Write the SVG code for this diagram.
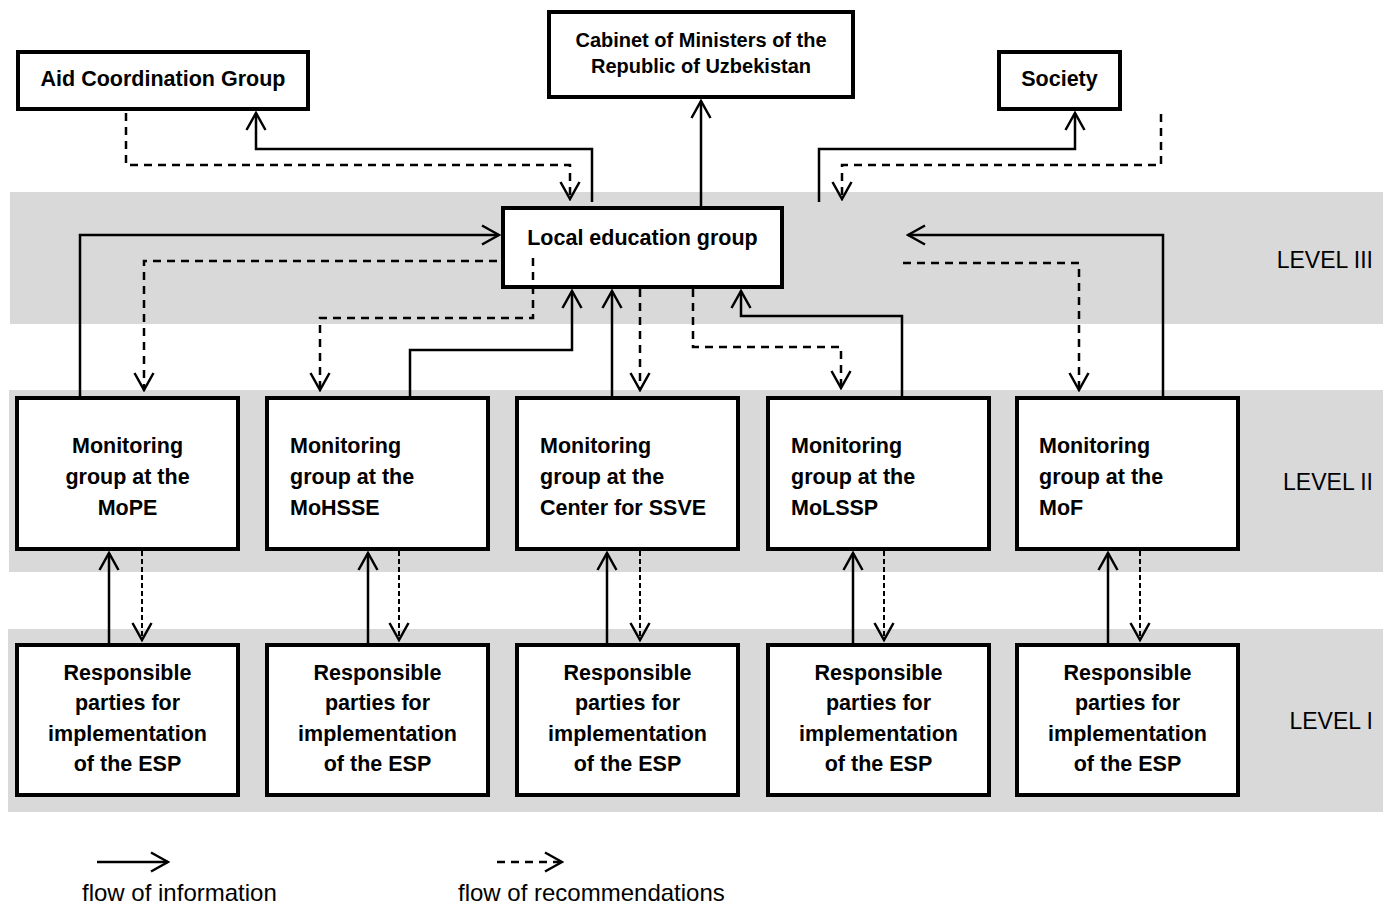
<svg xmlns="http://www.w3.org/2000/svg" width="1383" height="906" viewBox="0 0 1383 906">
<defs>
<style>
.band{fill:#d9d9d9}
.box{fill:#fff;stroke:#000;stroke-width:4}
.t{font-family:"Liberation Sans",Arial,sans-serif;font-weight:bold;font-size:21.5px;fill:#000}
.tc{text-anchor:middle}
.lvl{font-family:"Liberation Sans",Arial,sans-serif;font-size:23px;fill:#000;text-anchor:end}
.leg{font-family:"Liberation Sans",Arial,sans-serif;font-size:24px;fill:#000}
.s{fill:none;stroke:#000;stroke-width:2.5;marker-end:url(#ah)}
.d{fill:none;stroke:#000;stroke-width:2.5;stroke-dasharray:8 6;marker-end:url(#ah)}
.d2{fill:none;stroke:#000;stroke-width:2;stroke-dasharray:5 3;marker-end:url(#ah)}
</style>
<marker id="ah" markerUnits="userSpaceOnUse" viewBox="-20 -12 22 24" markerWidth="22" markerHeight="24" refX="0" refY="0" orient="auto">
<path d="M-17,-9.5 L0,0 L-17,9.5" fill="none" stroke="#000" stroke-width="2.5"/>
</marker>
</defs>
<rect width="1383" height="906" fill="#fff"/>
<g id="bands">
<rect class="band" x="10" y="192" width="1373" height="132"/>
<rect class="band" x="9" y="390" width="1374" height="182"/>
<rect class="band" x="8" y="629" width="1375" height="183"/>
<text class="lvl" x="1373" y="268">LEVEL III</text>
<text class="lvl" x="1373" y="490">LEVEL II</text>
<text class="lvl" x="1373" y="729">LEVEL I</text>
</g>
<g id="aid"><rect class="box" x="18" y="52" width="290" height="57"/><text class="t tc" x="163" y="86">Aid Coordination Group</text></g>
<g id="cabinet"><rect class="box" x="549" y="12" width="304" height="85"/><text class="t tc" x="701" y="47" style="font-size:20px">Cabinet of Ministers of the</text><text class="t tc" x="701" y="73" style="font-size:20px">Republic of Uzbekistan</text></g>
<g id="society"><rect class="box" x="999" y="52" width="121" height="57"/><text class="t tc" x="1059.5" y="86">Society</text></g>
<g id="leg"><rect class="box" x="503" y="208" width="279" height="79"/><text class="t tc" x="642.5" y="245">Local education group</text></g>
<g id="mon1"><rect class="box" x="17" y="398" width="221" height="151"/><text class="t tc" x="127.5" y="453">Monitoring</text><text class="t tc" x="127.5" y="484">group at the</text><text class="t tc" x="127.5" y="515">MoPE</text></g>
<g id="mon2"><rect class="box" x="267" y="398" width="221" height="151"/><text class="t" x="290" y="453">Monitoring</text><text class="t" x="290" y="484">group at the</text><text class="t" x="290" y="515">MoHSSE</text></g>
<g id="mon3"><rect class="box" x="517" y="398" width="221" height="151"/><text class="t" x="540" y="453">Monitoring</text><text class="t" x="540" y="484">group at the</text><text class="t" x="540" y="515">Center for SSVE</text></g>
<g id="mon4"><rect class="box" x="768" y="398" width="221" height="151"/><text class="t" x="791" y="453">Monitoring</text><text class="t" x="791" y="484">group at the</text><text class="t" x="791" y="515">MoLSSP</text></g>
<g id="mon5"><rect class="box" x="1017" y="398" width="221" height="151"/><text class="t" x="1039" y="453">Monitoring</text><text class="t" x="1039" y="484">group at the</text><text class="t" x="1039" y="515">MoF</text></g>
<g id="resp1"><rect class="box" x="17" y="645" width="221" height="150"/><text class="t tc" x="127.5" y="680">Responsible</text><text class="t tc" x="127.5" y="710">parties for</text><text class="t tc" x="127.5" y="741">implementation</text><text class="t tc" x="127.5" y="771">of the ESP</text></g>
<g id="resp2"><rect class="box" x="267" y="645" width="221" height="150"/><text class="t tc" x="377.5" y="680">Responsible</text><text class="t tc" x="377.5" y="710">parties for</text><text class="t tc" x="377.5" y="741">implementation</text><text class="t tc" x="377.5" y="771">of the ESP</text></g>
<g id="resp3"><rect class="box" x="517" y="645" width="221" height="150"/><text class="t tc" x="627.5" y="680">Responsible</text><text class="t tc" x="627.5" y="710">parties for</text><text class="t tc" x="627.5" y="741">implementation</text><text class="t tc" x="627.5" y="771">of the ESP</text></g>
<g id="resp4"><rect class="box" x="768" y="645" width="221" height="150"/><text class="t tc" x="878.5" y="680">Responsible</text><text class="t tc" x="878.5" y="710">parties for</text><text class="t tc" x="878.5" y="741">implementation</text><text class="t tc" x="878.5" y="771">of the ESP</text></g>
<g id="resp5"><rect class="box" x="1017" y="645" width="221" height="150"/><text class="t tc" x="1127.5" y="680">Responsible</text><text class="t tc" x="1127.5" y="710">parties for</text><text class="t tc" x="1127.5" y="741">implementation</text><text class="t tc" x="1127.5" y="771">of the ESP</text></g>
<g id="connectors">
<polyline class="d" points="126,113 126,165 570,165 570,199"/>
<polyline class="s" points="592,202 592,149 256,149 256,113"/>
<polyline class="s" points="701,206 701,101"/>
<polyline class="s" points="819,202 819,149 1075,149 1075,113"/>
<polyline class="d" points="1161,114 1161,165 842,165 842,199"/>
<polyline class="s" points="80,398 80,235 499,235"/>
<polyline class="d" points="497,261 144,261 144,390"/>
<polyline class="d" points="533,258 533,318 320,318 320,390"/>
<polyline class="s" points="410,396 410,350 572,350 572,291"/>
<polyline class="s" points="612,396 612,291"/>
<polyline class="d" points="640,289 640,390"/>
<polyline class="d" points="693,289 693,347 841,347 841,388"/>
<polyline class="s" points="902,396 902,316 741,316 741,291"/>
<polyline class="s" points="1163,396 1163,235 908,235"/>
<polyline class="d" points="903,263 1079,263 1079,390"/>
<polyline class="s" points="109,643 109,553"/>
<polyline class="d2" points="142,551 142,640"/>
<polyline class="s" points="368,643 368,553"/>
<polyline class="d2" points="399,551 399,640"/>
<polyline class="s" points="607,643 607,553"/>
<polyline class="d2" points="640,551 640,640"/>
<polyline class="s" points="853,643 853,553"/>
<polyline class="d2" points="884,551 884,640"/>
<polyline class="s" points="1108,643 1108,553"/>
<polyline class="d2" points="1140,551 1140,640"/>
</g>
<g id="legend">
<polyline class="s" points="97,862 168,862"/>
<polyline class="d" points="497,862 562,862"/>
<text class="leg" x="82" y="901">flow of information</text>
<text class="leg" x="458" y="901">flow of recommendations</text>
</g>
</svg>
